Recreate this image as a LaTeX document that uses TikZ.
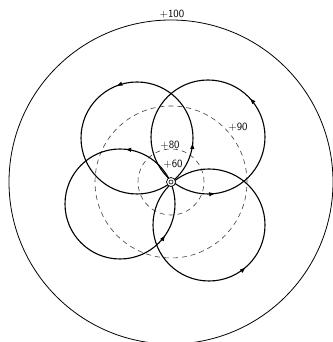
\documentclass[tikz,border=0pt]{standalone}
\usepackage{tikz}
\usetikzlibrary{arrows.meta, decorations.markings}

\tikzset{
    orbit/.style={line width=1.1pt},
    level/.style={line width=0.6pt, dash pattern=on 5pt off 4pt, black!75},
    dir/.style={postaction={decorate, decoration={markings,
        mark=at position #1 with {\arrow{Latex[length=6pt,width=4.5pt]}}}}},
    lbl/.style={font=\sffamily\fontsize{11}{12}\selectfont, inner sep=1pt}
}

\begin{document}
\begin{tikzpicture}[x=1pt, y=1pt]
    \useasboundingbox (0,0) rectangle (332,342);
    \coordinate (O) at (171,160);

    % outer level line
    \draw[line width=0.8pt] (O) circle[radius=162];
    \node[lbl] (l100) at (172,328) {+100};

    % dashed level lines
    \draw[level] (O) circle[radius=76];
    \draw[level] (O) circle[radius=33];
    \node[lbl] (l90) at (238,215) {+90};
    \node[lbl] (l80) at (170,197) {+80};
    \node[lbl] (l60) at (173,178) {+60};

    % the four orbits through the centre
    \draw[orbit, dir=0.31, dir=0.986] (137,204) circle[radius=56];
    \draw[orbit, dir=0.119, dir=0.77] (208,205) circle[radius=57];
    \draw[orbit, dir=0.235, dir=0.904] (120,138) circle[radius=55];
    \draw[orbit, dir=0.864] (209,117) circle[radius=56];

    % centre mark
    \draw[line width=0.7pt, fill=white] (O) circle[radius=4.5];
    \draw[line width=0.6pt] (O) circle[radius=2];
\end{tikzpicture}
\end{document}
